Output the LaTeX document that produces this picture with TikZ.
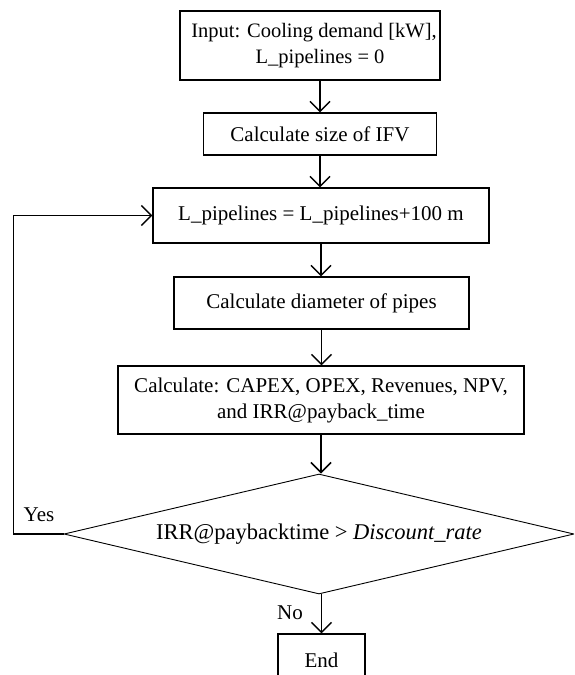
\documentclass[tikz,border=0pt]{standalone}
\usepackage{fontspec}
\setmainfont{Liberation Serif}
\usetikzlibrary{arrows.meta,shapes.geometric}
\tikzset{
  box/.style={draw,line width=1.1pt,inner sep=0pt,align=center,
    font=\fontsize{21}{26}\selectfont},
  decision/.style={draw,diamond,line width=0.9pt,inner sep=0pt,aspect=4.25,
    font=\fontsize{22.5}{27}\selectfont},
  arr/.style={line width=1.5pt,-{Straight Barb[length=10pt,width=20pt,line width=1.5pt]}},
  lbl/.style={font=\fontsize{21}{26}\selectfont,inner sep=0pt}
}
\begin{document}
\begin{tikzpicture}[x=1pt,y=-1pt]
\path[use as bounding box] (0,0) rectangle (574,675);
\clip (0,0) rectangle (574,675);
\node[box,minimum width=260,minimum height=69,font=\fontsize{20.5}{26}\selectfont] (b1) at (310,45.5)
  {\hspace*{8pt}Input: Cooling demand [kW],\\ \hspace*{20pt}L\_pipelines = 0};
\node[box,minimum width=233,minimum height=42] (b2) at (320,134)
  {Calculate size of IFV};
\node[box,minimum width=336,minimum height=55] (b3) at (321,215.5)
  {L\_pipelines = L\_pipelines+100 m};
\node[box,minimum width=295,minimum height=52] (b4) at (321.5,303)
  {Calculate diameter of pipes};
\node[box,minimum width=406,minimum height=68] (b5) at (321,400)
  {Calculate: CAPEX, OPEX, Revenues, NPV,\\ and IRR@payback\_time};
\node[decision,minimum width=510,minimum height=120] (d) at (319,534)
  {IRR@paybacktime > \textit{Discount\_rate}};
\node[box,minimum width=87,minimum height=52] (e) at (321.5,660) {End};
\node[lbl] (yes) at (39,515) {Yes};
\node[lbl] (no) at (290,613) {No};
\coordinate (b1s) at ([xshift=10pt]b1.south);
\draw[arr] (b1s) -- (b1s |- b2.north);
\draw[arr] (b2.south) -- (b2.south |- b3.north);
\draw[arr] (b3.south) -- (b3.south |- b4.north);
\draw[arr] (b4.south) -- (b4.south |- b5.north);
\draw[arr] (b5.south) -- (b5.south |- d.north);
\draw[arr] (e.north |- d.south) -- (e.north);
\draw[arr] (d.west) -- ++(-50,0) |- (b3.west);
\end{tikzpicture}
\end{document}
